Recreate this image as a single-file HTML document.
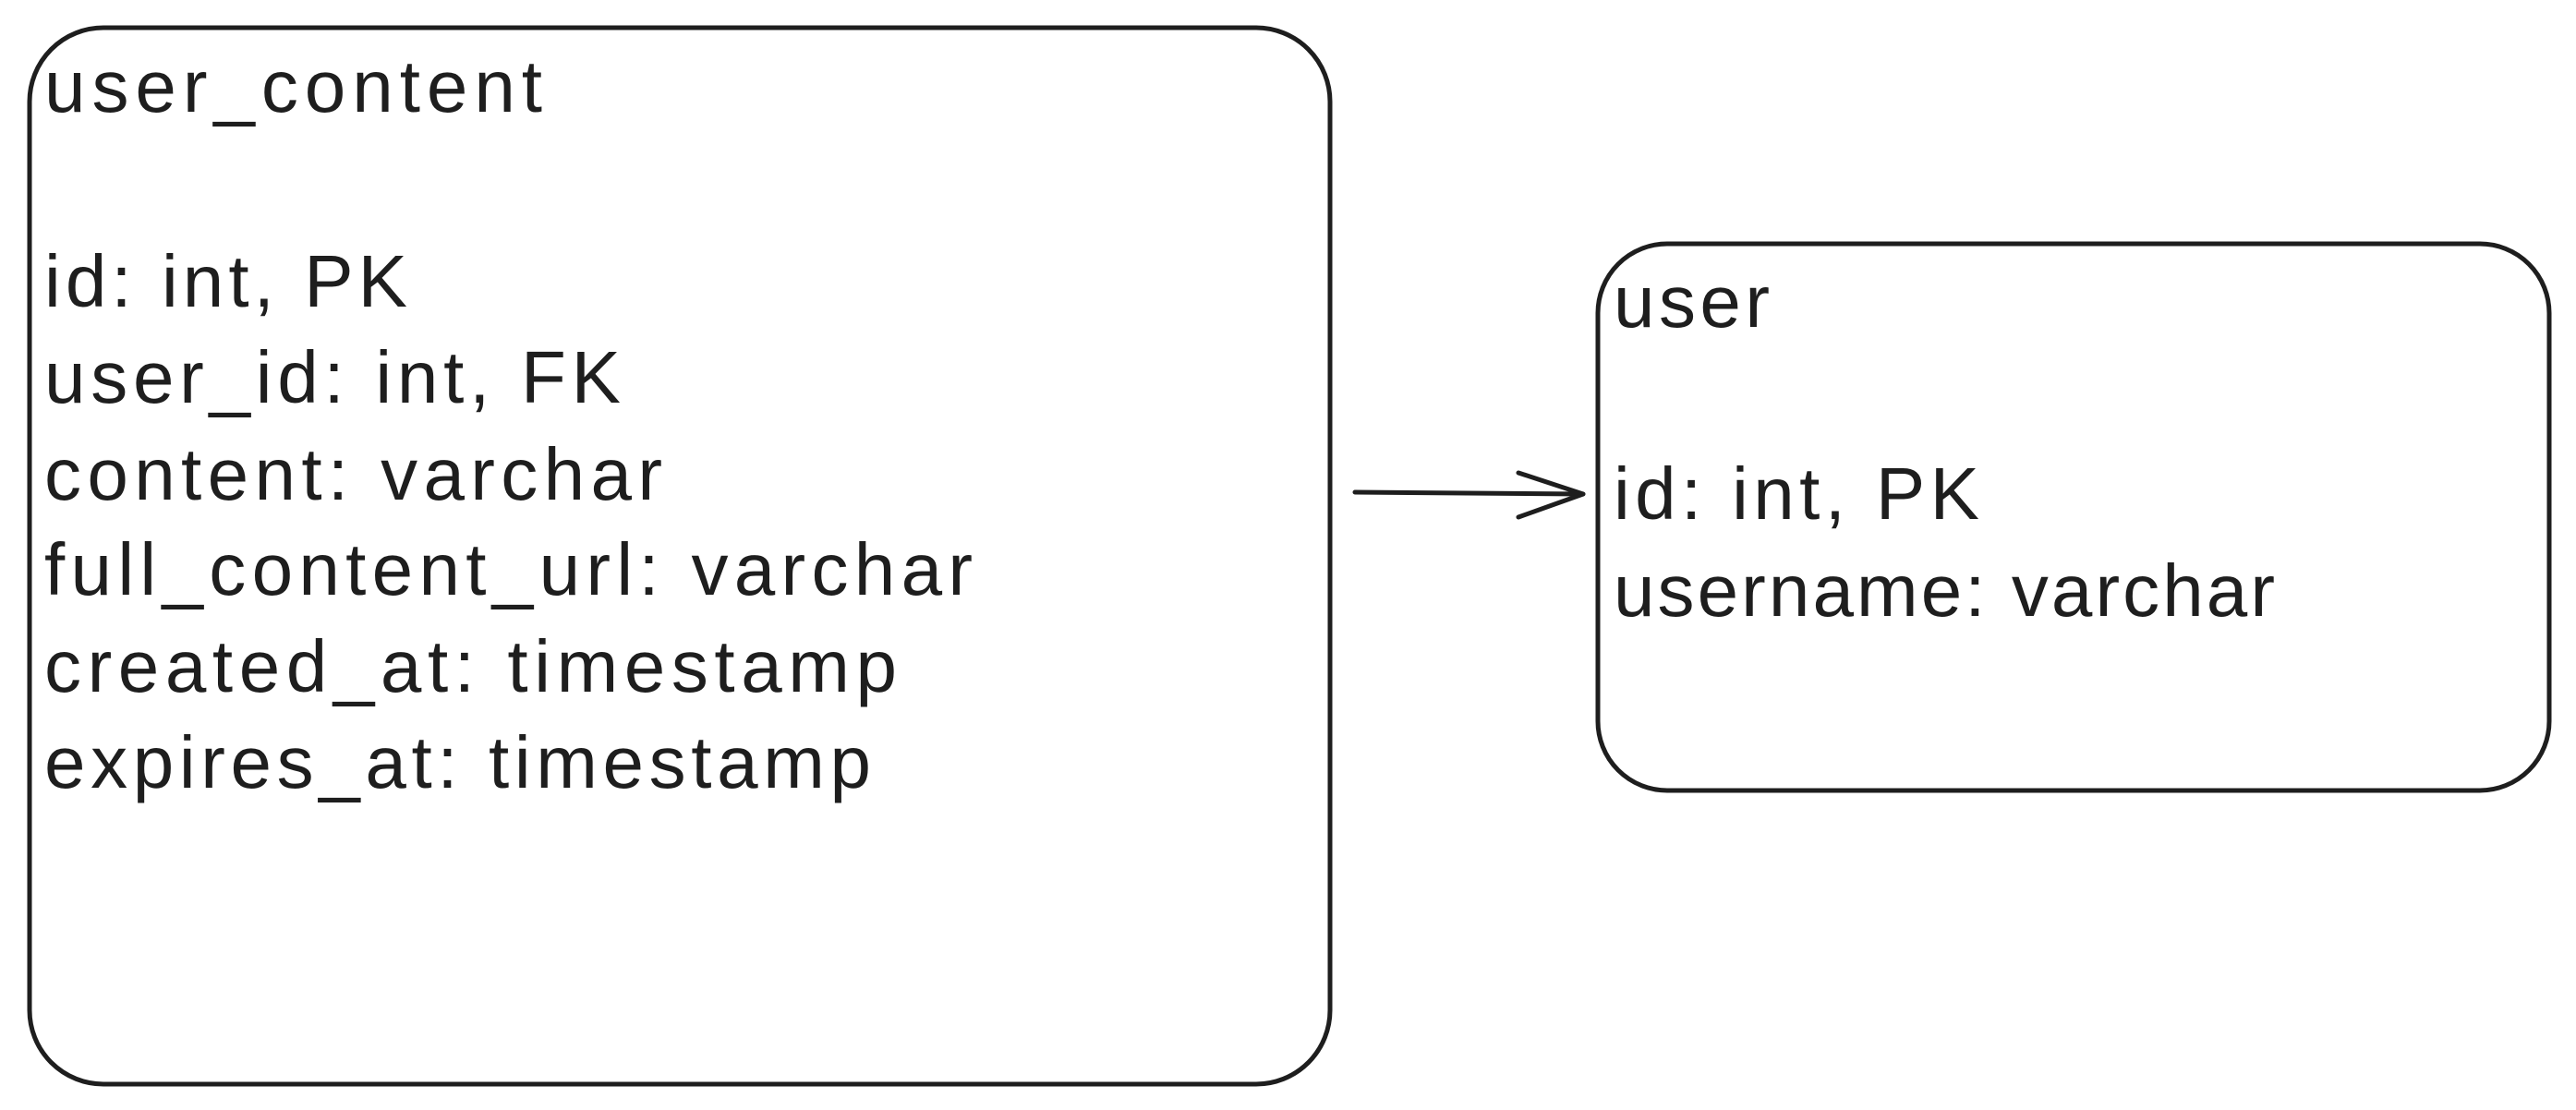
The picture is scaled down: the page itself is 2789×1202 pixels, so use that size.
<!DOCTYPE html>
<html><head><meta charset="utf-8"><style>
html,body{margin:0;padding:0;background:#fff;}
svg{display:block;}
text{font-family:"Liberation Sans",sans-serif;font-size:80px;fill:#1e1e1e;}
</style></head><body>
<svg width="2789" height="1202" viewBox="0 0 2789 1202" xmlns="http://www.w3.org/2000/svg">
<rect width="2789" height="1202" fill="#fff"/>
<rect x="32" y="30" width="1408" height="1144" rx="80" ry="80" fill="none" stroke="#1e1e1e" stroke-width="5"/>
<rect x="1730" y="264" width="1030" height="592" rx="75" ry="75" fill="none" stroke="#1e1e1e" stroke-width="5"/>
<line x1="1467" y1="533" x2="1714" y2="535" stroke="#1e1e1e" stroke-width="5" stroke-linecap="round"/>
<path d="M1644 512 L1714 535 L1644 560" fill="none" stroke="#1e1e1e" stroke-width="5" stroke-linecap="round" stroke-linejoin="round"/>
<g lengthAdjust="spacing">
<text x="48" y="121" textLength="539" lengthAdjust="spacing">user_content</text>
<text x="48" y="332" textLength="393" lengthAdjust="spacing">id: int, PK</text>
<text x="48" y="436" textLength="624" lengthAdjust="spacing">user_id: int, FK</text>
<text x="48" y="541" textLength="669" lengthAdjust="spacing">content: varchar</text>
<text x="48" y="644" textLength="1005" lengthAdjust="spacing">full_content_url: varchar</text>
<text x="48" y="749" textLength="923" lengthAdjust="spacing">created_at: timestamp</text>
<text x="48" y="853" textLength="895" lengthAdjust="spacing">expires_at: timestamp</text>
<text x="1747" y="354" textLength="169" lengthAdjust="spacing">user</text>
<text x="1747" y="562" textLength="396" lengthAdjust="spacing">id: int, PK</text>
<text x="1747" y="667" textLength="716" lengthAdjust="spacing">username: varchar</text>
</g>
</svg>
</body></html>
